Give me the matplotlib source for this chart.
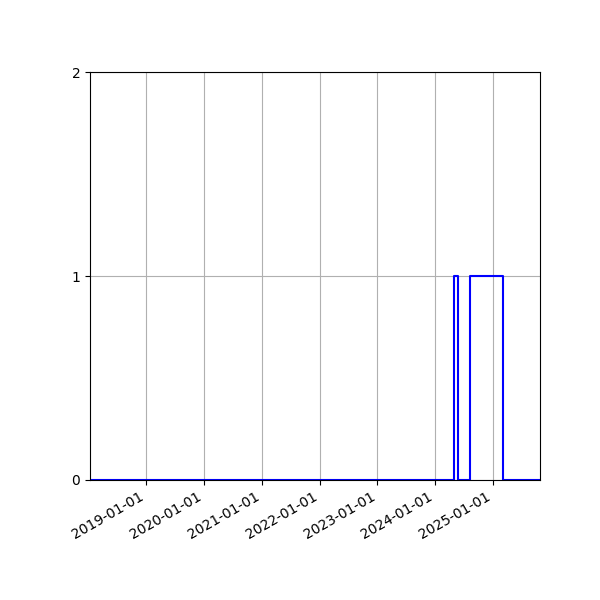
import numpy as np
import pandas as pd
import matplotlib
matplotlib.use('Agg')
import matplotlib.pyplot as plt
import matplotlib.dates as mdates

# -------- Data (change points of the 0/1 signal) --------
change_dates = ['2018-01-09', '2024-04-27', '2024-05-22', '2024-08-10',
                '2025-03-05', '2025-10-25']
signal_values = [0, 1, 0, 1, 0, 0]

dates = pd.to_datetime(change_dates)

fig, ax = plt.subplots(figsize=(6, 6), dpi=100)
ax.step(dates, signal_values, where='post', color='b')

ax.set_xlim(dates[0], dates[-1])
ax.set_ylim(0, 2)
ax.set_yticks([0, 1, 2])
ax.xaxis.set_major_locator(mdates.YearLocator())
ax.xaxis.set_major_formatter(mdates.DateFormatter('%Y-%m-%d'))
ax.grid(True)

fig.autofmt_xdate()
fig.subplots_adjust(left=0.15, right=0.9, top=0.88, bottom=0.2)
fig.savefig('out.png')
